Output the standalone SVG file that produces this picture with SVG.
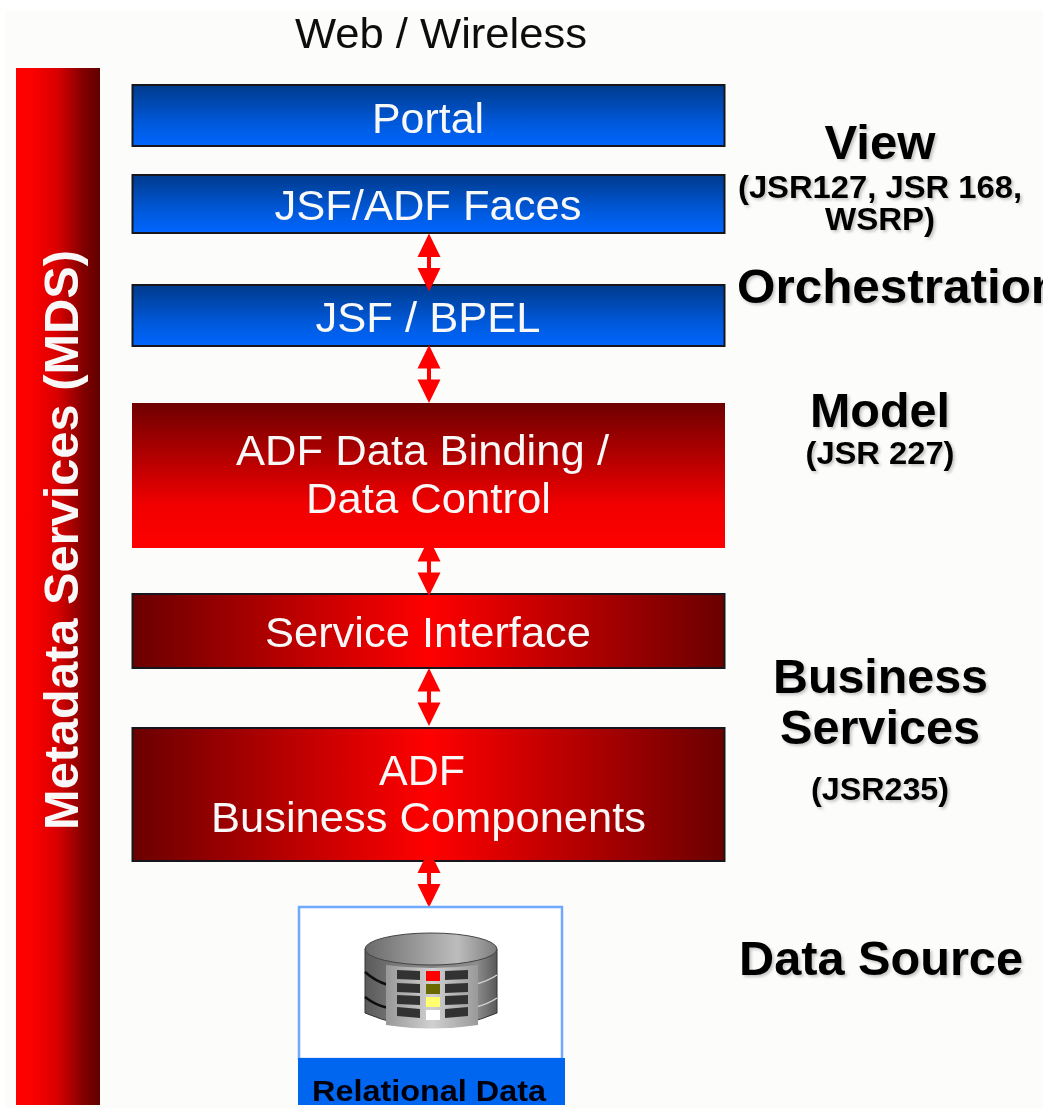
<svg xmlns="http://www.w3.org/2000/svg" width="1049" height="1108" viewBox="0 0 1049 1108">
<style>
text{font-family:"Liberation Sans",Arial,sans-serif;text-anchor:middle}
.w{fill:#f8f8f8;font-size:42px}
.h{fill:#050505;font-weight:bold;font-size:48px;filter:url(#sh)}
.s{fill:#050505;font-weight:bold;font-size:31px;filter:url(#sh)}
.box{stroke:#15151a;stroke-width:2}
.conn{fill:#ff0000;stroke:none}
</style>
<defs>
<linearGradient id="blue" x1="0" y1="0" x2="0" y2="1"><stop offset="0" stop-color="#003a8c"/><stop offset=".6" stop-color="#0058d8"/><stop offset="1" stop-color="#0066ff"/></linearGradient>
<linearGradient id="redv" x1="0" y1="0" x2="0" y2="1"><stop offset="0" stop-color="#6e0000"/><stop offset=".7" stop-color="#f00000"/><stop offset="1" stop-color="#ff0000"/></linearGradient>
<linearGradient id="redh" x1="0" y1="0" x2="1" y2="0"><stop offset="0" stop-color="#6a0000"/><stop offset=".5" stop-color="#ff0000"/><stop offset="1" stop-color="#6a0000"/></linearGradient>
<linearGradient id="redside" x1="0" y1="0" x2="1" y2="0"><stop offset="0" stop-color="#ff0000"/><stop offset=".2" stop-color="#fa0000"/><stop offset=".5" stop-color="#d80000"/><stop offset=".8" stop-color="#820000"/><stop offset="1" stop-color="#600000"/></linearGradient>
<linearGradient id="dbside" x1="0" y1="0" x2="1" y2="0"><stop offset="0" stop-color="#5a5a5a"/><stop offset=".3" stop-color="#808080"/><stop offset=".85" stop-color="#8c8c8c"/><stop offset="1" stop-color="#585858"/></linearGradient>
<linearGradient id="dbtop" x1="0" y1="0" x2="1" y2="0"><stop offset="0" stop-color="#6a6a6a"/><stop offset=".7" stop-color="#bdbdbd"/><stop offset="1" stop-color="#7c7c7c"/></linearGradient>
<linearGradient id="dbpanel" x1="0" y1="0" x2="1" y2="0"><stop offset="0" stop-color="#989898"/><stop offset=".5" stop-color="#d0d0d0"/><stop offset="1" stop-color="#9a9a9a"/></linearGradient>
<filter id="sh" x="-10%" y="-20%" width="120%" height="150%"><feDropShadow dx="2" dy="2" stdDeviation="1.5" flood-color="#000" flood-opacity=".22"/></filter>
<filter id="soft" filterUnits="userSpaceOnUse" x="0" y="0" width="1049" height="1108"><feGaussianBlur stdDeviation=".75"/></filter>
<g id="arrow"><polygon points="0,-29 -11.500,-5.500 -2,-5.500 -2,5.500 -11.500,5.500 0,29 11.500,5.500 2,5.500 2,-5.500 11.500,-5.500"/></g>
</defs>
<rect width="1049" height="1108" fill="#fff"/>
<rect x="6" y="10" width="1037" height="1098" fill="#fcfdfb"/>
<g filter="url(#soft)">
<text x="441" y="48" textLength="292" lengthAdjust="spacingAndGlyphs" style="fill:#111;font-size:42px">Web / Wireless</text>
<g id="mds"><rect x="16" y="68" width="84" height="1037" fill="url(#redside)"/>
<text transform="translate(78 540) rotate(-90)" textLength="580" lengthAdjust="spacingAndGlyphs" fill="#f8f8f8" font-weight="bold" font-size="48">Metadata Services (MDS)</text></g>
<g id="portal"><rect class="box" x="132.500" y="85" width="592" height="61" fill="url(#blue)"/><text class="w" x="428" y="133" textLength="112" lengthAdjust="spacingAndGlyphs">Portal</text></g>
<g id="jsf-adf"><rect class="box" x="132.500" y="175" width="592" height="58" fill="url(#blue)"/><text class="w" x="428" y="220" textLength="307" lengthAdjust="spacingAndGlyphs">JSF/ADF Faces</text></g>
<g id="jsf-bpel"><rect class="box" x="132.500" y="285" width="592" height="61" fill="url(#blue)"/><text class="w" x="428" y="332" textLength="225" lengthAdjust="spacingAndGlyphs">JSF / BPEL</text></g>
<g id="databinding"><rect x="132" y="403" width="593" height="145" fill="url(#redv)"/><text class="w" x="422.500" y="465" textLength="373" lengthAdjust="spacingAndGlyphs">ADF Data Binding /</text><text class="w" x="428.500" y="513" textLength="245" lengthAdjust="spacingAndGlyphs">Data Control</text></g>
<g id="service"><rect x="132.500" y="594" width="592" height="74" fill="url(#redh)" class="box"/><text class="w" x="428" y="647" textLength="326" lengthAdjust="spacingAndGlyphs">Service Interface</text></g>
<g id="adfbc"><rect x="132.500" y="728" width="592" height="133" fill="url(#redh)" class="box"/><text class="w" x="422" y="785" textLength="86" lengthAdjust="spacingAndGlyphs">ADF</text><text class="w" x="428.500" y="832" textLength="435" lengthAdjust="spacingAndGlyphs">Business Components</text></g>
<g id="connectors" class="conn">
<use href="#arrow" x="429" y="262.500"/>
<use href="#arrow" x="429" y="374"/>
<use href="#arrow" x="429" y="567"/>
<use href="#arrow" x="429" y="697"/>
<use href="#arrow" x="429" y="878.500"/>
</g>
<g id="datasource">
<rect x="299" y="907" width="263" height="152" fill="#fff" stroke="#70a8ff" stroke-width="2.500"/>
<rect x="298" y="1058" width="267" height="47" fill="#0066f0"/>
<text x="429" y="1101" textLength="234" lengthAdjust="spacingAndGlyphs" fill="#000010" font-weight="bold" font-size="30">Relational Data</text>
<g id="db">
<path d="M365 949V1013Q431 1041 497 1013V949Z" fill="url(#dbside)" stroke="#333" stroke-width="1"/>
<ellipse cx="431" cy="949" rx="66" ry="16" fill="url(#dbtop)" stroke="#444" stroke-width="1"/>
<path d="M365 972Q375 981 388 985M365 997Q375 1005 388 1008" fill="none" stroke="#111" stroke-width="2.500"/>
<path d="M476 984Q488 981 497 975M476 1007Q488 1004 497 998" fill="none" stroke="#d4d4d4" stroke-width="1.500"/>
<path d="M386 965Q431 971 478 965V1025Q431 1032 386 1025Z" fill="url(#dbpanel)"/>
<g fill="#333"><polygon points="397,970 420,971 420,980 397,979"/><polygon points="397,983 420,984 420,993 397,992"/><polygon points="397,995 420,996 420,1005 397,1004"/><polygon points="397,1007 420,1009 420,1018 397,1016"/>
<polygon points="445,971 468,970 468,979 445,980"/><polygon points="445,984 468,983 468,992 445,993"/><polygon points="445,996 468,995 468,1004 445,1005"/><polygon points="445,1009 468,1007 468,1016 445,1018"/></g>
<rect x="426" y="971" width="14" height="10" fill="#ff0000"/><rect x="426" y="984" width="14" height="10" fill="#6a6a00"/><rect x="426" y="997" width="14" height="10" fill="#ffff70"/><rect x="426" y="1010" width="14" height="10" fill="#fff"/>
</g></g>
<g id="labels">
<text class="h" x="880" y="159" textLength="111" lengthAdjust="spacingAndGlyphs">View</text>
<text class="s" x="880" y="198" textLength="284" lengthAdjust="spacingAndGlyphs">(JSR127, JSR 168,</text>
<text class="s" x="880" y="230" textLength="110" lengthAdjust="spacingAndGlyphs">WSRP)</text>
<text class="h" x="899" y="303" textLength="324" lengthAdjust="spacingAndGlyphs">Orchestration</text>
<text class="h" x="880" y="427" textLength="140" lengthAdjust="spacingAndGlyphs">Model</text>
<text class="s" x="880" y="464" textLength="149" lengthAdjust="spacingAndGlyphs">(JSR 227)</text>
<text class="h" x="880.500" y="693" textLength="215" lengthAdjust="spacingAndGlyphs">Business</text>
<text class="h" x="880" y="744" textLength="200" lengthAdjust="spacingAndGlyphs">Services</text>
<text class="s" x="880" y="800" textLength="138" lengthAdjust="spacingAndGlyphs">(JSR235)</text>
<text class="h" x="881" y="975" textLength="284" lengthAdjust="spacingAndGlyphs">Data Source</text>
</g>
</g>
<rect x="1043" y="0" width="6" height="1108" fill="#fff"/>
</svg>
